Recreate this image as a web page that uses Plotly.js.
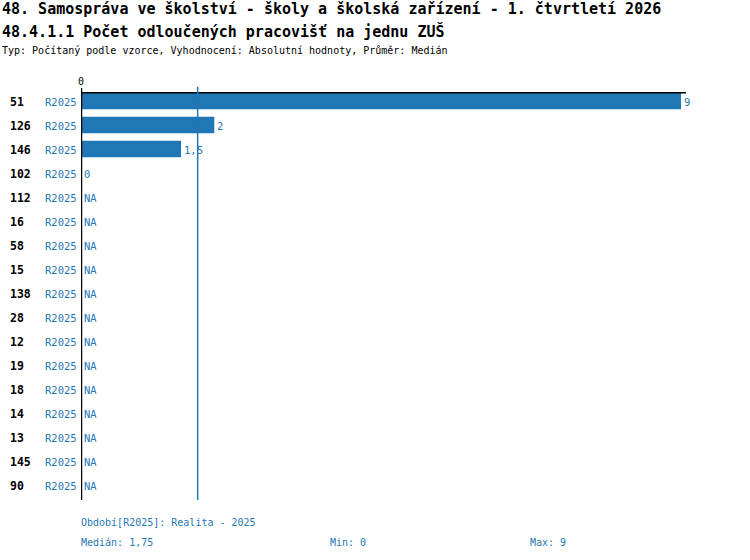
<!DOCTYPE html>
<html>
<head>
<meta charset="utf-8">
<script src="https://cdn.plot.ly/plotly-3.0.1.min.js"></script>
<style>html,body{margin:0;padding:0;background:#fff}#chart{width:750px;height:560px}</style>
</head>
<body>
<div id="chart"></div>
<script>
const categories = ["51","126","146","102","112","16","58","15","138","28","12","19","18","14","13","145","90"];
const periods = ["R2025","R2025","R2025","R2025","R2025","R2025","R2025","R2025","R2025","R2025","R2025","R2025","R2025","R2025","R2025","R2025","R2025"];
const values = [9, 2, 1.5, 0, null, null, null, null, null, null, null, null, null, null, null, null, null];
const medianValue = 1.75;
const minValue = 0;
const maxValue = 9;
const titleLine1 = "48. Samospráva ve školství - školy a školská zařízení - 1. čtvrtletí 2026";
const titleLine2 = "48.4.1.1 Počet odloučených pracovišť na jednu ZUŠ";
const subtitle = "Typ: Počítaný podle vzorce, Vyhodnocení: Absolutní hodnoty, Průměr: Medián";
const periodNote = "Období[R2025]: Realita - 2025";

const BLUE = "#1f77b4";
const FONT = "DejaVu Sans Mono, monospace";
const fmt = v => v === null ? "NA" : String(v).replace(".", ",");
const rowPos = categories.map((c, i) => i);

const annotations = [];
categories.forEach((c, i) => {
  annotations.push({xref:"paper", yref:"y", x:0, y:rowPos[i], xshift:-73, yshift:-1, xanchor:"left", yanchor:"middle",
    text:"<b>"+c+"</b>", showarrow:false, font:{family:FONT, size:11.5, color:"#000"}});
  annotations.push({xref:"paper", yref:"y", x:0, y:rowPos[i], xshift:-2, yshift:-1, xanchor:"right", yanchor:"middle",
    text:periods[i], showarrow:false, font:{family:FONT, size:10.5, color:BLUE}});
  annotations.push({xref:"x", yref:"y", x:(values[i] === null ? 0 : values[i]), y:rowPos[i], xshift:1, yshift:-1, xanchor:"left", yanchor:"middle",
    text:fmt(values[i]), showarrow:false, font:{family:FONT, size:10.5, color:BLUE}});
});
// titles
annotations.push({xref:"paper", yref:"paper", x:0, y:1, xshift:-81, yshift:88-9, xanchor:"left", yanchor:"middle",
  text:titleLine1, showarrow:false, font:{family:FONT, size:15, color:"#000", weight:"bold"}});
annotations.push({xref:"paper", yref:"paper", x:0, y:1, xshift:-81, yshift:88-31, xanchor:"left", yanchor:"middle",
  text:titleLine2, showarrow:false, font:{family:FONT, size:15, color:"#000", weight:"bold"}});
annotations.push({xref:"paper", yref:"paper", x:0, y:1, xshift:-81, yshift:88-50, xanchor:"left", yanchor:"middle",
  text:subtitle, showarrow:false, font:{family:FONT, size:10, color:"#000"}});
// footer
annotations.push({xref:"paper", yref:"paper", x:0, y:0, xshift:-2, yshift:-22, xanchor:"left", yanchor:"middle",
  text:periodNote, showarrow:false, font:{family:FONT, size:10, color:BLUE}});
annotations.push({xref:"paper", yref:"paper", x:0, y:0, xshift:-2, yshift:-42, xanchor:"left", yanchor:"middle",
  text:"Medián: " + fmt(medianValue), showarrow:false, font:{family:FONT, size:10, color:BLUE}});
annotations.push({xref:"paper", yref:"paper", x:0, y:0, xshift:247, yshift:-42, xanchor:"left", yanchor:"middle",
  text:"Min: " + fmt(minValue), showarrow:false, font:{family:FONT, size:10, color:BLUE}});
annotations.push({xref:"paper", yref:"paper", x:0, y:0, xshift:447, yshift:-42, xanchor:"left", yanchor:"middle",
  text:"Max: " + fmt(maxValue), showarrow:false, font:{family:FONT, size:10, color:BLUE}});

const trace = {
  type:"bar", orientation:"h",
  x: values, y: rowPos,
  marker:{color:BLUE},
  width:0.68,
  hoverinfo:"x+y"
};

const layout = {
  width:750, height:560,
  margin:{l:81, r:64, t:88, b:60, pad:0},
  paper_bgcolor:"#fff", plot_bgcolor:"#fff",
  showlegend:false,
  font:{family:FONT, size:10, color:"#000"},
  xaxis:{range:[0, 9.075], side:"top", tickvals:[0], ticktext:["0"], ticks:"", showgrid:false,
    zeroline:false, showline:false, tickfont:{family:FONT, size:10, color:"#000"}, fixedrange:true},
  yaxis:{type:"linear", range:[categories.length - 0.5 + 0.12, -0.54],
    showticklabels:false, ticks:"", showgrid:false, zeroline:false, showline:false, fixedrange:true},
  shapes:[
    {type:"line", xref:"paper", yref:"y", x0:0, x1:1, y0:-0.34, y1:-0.34,
      line:{color:"#000", width:1.5}},
    {type:"line", xref:"x", yref:"paper", x0:medianValue, x1:medianValue, y0:0, y1:1.003,
      line:{color:BLUE, width:1.5}},
    {type:"line", xref:"x", yref:"paper", x0:0, x1:0, y0:0, y1:1,
      line:{color:"#000", width:2.5}}
  ],
  annotations: annotations
};

Plotly.newPlot("chart", [trace], layout, {displayModeBar:false, staticPlot:true});
</script>
</body>
</html>
